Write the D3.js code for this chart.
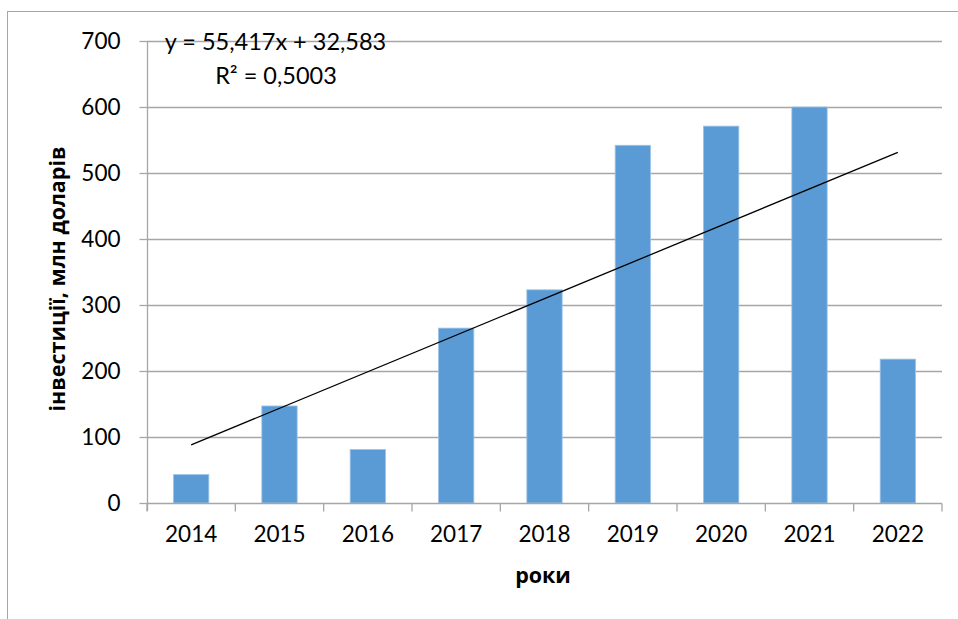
<!DOCTYPE html>
<html>
<head>
<meta charset="utf-8">
<script src="https://cdn.jsdelivr.net/npm/d3@7"></script>
<style>
  html, body { margin: 0; padding: 0; background: #fff; }
  svg { display: block; }
</style>
</head>
<body>
<svg id="chart" width="958" height="619"></svg>
<script>
const years = ["2014","2015","2016","2017","2018","2019","2020","2021","2022"];
const values = [43, 147, 81, 265, 323, 542, 571, 600, 218];
const yTicks = [0, 100, 200, 300, 400, 500, 600, 700];
const trendSlope = 55.417;
const trendIntercept = 32.583;
const equationText = "y = 55,417x + 32,583";
const r2Text = "R² = 0,5003";
const yTitle = "інвестиції, млн доларів";
const xTitle = "роки";

const svg = d3.select("#chart");
const W = 958, H = 619;
const m = { left: 147, right: 942, top: 41, bottom: 503 };
const gray = "#a6a6a6";
const numFont = "Lato, 'Open Sans', sans-serif";
const titleFont = "'Open Sans', 'Noto Sans', sans-serif";

// outer border (top and left visible)
svg.append("line").attr("x1", 7).attr("x2", W).attr("y1", 11.5).attr("y2", 11.5)
  .attr("stroke", gray).attr("stroke-width", 1);
svg.append("line").attr("x1", 7.5).attr("x2", 7.5).attr("y1", 11).attr("y2", H)
  .attr("stroke", gray).attr("stroke-width", 1);

const x = d3.scaleBand().domain(years).range([m.left, m.right])
  .paddingInner(0.6).paddingOuter(0.3);
const y = d3.scaleLinear().domain([0, 700]).range([m.bottom, m.top]);

// gridlines
svg.append("g").selectAll("line").data(yTicks.filter(d => d > 0)).join("line")
  .attr("x1", m.left).attr("x2", m.right)
  .attr("y1", d => Math.round(y(d)) + 0.5).attr("y2", d => Math.round(y(d)) + 0.5)
  .attr("stroke", gray).attr("stroke-width", 1.3);

// bars
svg.append("g").selectAll("rect").data(values).join("rect")
  .attr("x", (d, i) => x(years[i]))
  .attr("width", x.bandwidth())
  .attr("y", d => y(d))
  .attr("height", d => y(0) - y(d))
  .attr("fill", "#5B9BD5")
  .attr("stroke", "#9DC3E6").attr("stroke-width", 0.8);

// y axis
const yAxis = d3.axisLeft(y).tickValues(yTicks).tickSize(8).tickPadding(19);
const gy = svg.append("g").attr("transform", `translate(${m.left + 0.5},0)`).call(yAxis);
gy.select(".domain").attr("stroke", gray).attr("stroke-width", 1.3)
  .attr("d", `M0,${m.top}V${m.bottom + 8}`);
gy.selectAll(".tick line").attr("stroke", gray).attr("stroke-width", 1.3);
gy.selectAll(".tick text").attr("font-family", numFont).attr("font-size", 22.5).attr("fill", "#000");

// x axis
const xAxis = d3.axisBottom(x).tickSize(0).tickPadding(23);
const gx = svg.append("g").attr("transform", `translate(0,${Math.round(m.bottom) + 0.5})`).call(xAxis);
gx.select(".domain").attr("stroke", gray).attr("stroke-width", 1.3)
  .attr("d", `M${m.left},0H${m.right}`);
gx.selectAll(".tick text").attr("font-family", numFont).attr("font-size", 22.5).attr("fill", "#000");
// category boundary ticks
const bounds = d3.range(years.length + 1).map(i => m.left + i * (m.right - m.left) / years.length);
gx.append("g").selectAll("line").data(bounds).join("line")
  .attr("x1", d => d).attr("x2", d => d).attr("y1", 0).attr("y2", 8)
  .attr("stroke", gray).attr("stroke-width", 1.3);

// trend line
const trendPts = years.map((yr, i) => [x(yr) + x.bandwidth() / 2, y(trendSlope * (i + 1) + trendIntercept)]);
svg.append("line")
  .attr("x1", trendPts[0][0]).attr("y1", trendPts[0][1])
  .attr("x2", trendPts[trendPts.length - 1][0]).attr("y2", trendPts[trendPts.length - 1][1])
  .attr("stroke", "#000").attr("stroke-width", 1.3);

// equation labels
svg.append("text").attr("x", 275.5).attr("y", 50).attr("text-anchor", "middle")
  .attr("font-family", numFont).attr("font-size", 23.5).text(equationText);
svg.append("text").attr("x", 276).attr("y", 84).attr("text-anchor", "middle")
  .attr("font-family", numFont).attr("font-size", 23.5).text(r2Text);

// axis titles
svg.append("text").attr("transform", `translate(65,279) rotate(-90)`)
  .attr("text-anchor", "middle").attr("font-family", titleFont)
  .attr("font-weight", "bold").attr("font-size", 21.5).text(yTitle);
svg.append("text").attr("x", 543).attr("y", 583).attr("text-anchor", "middle")
  .attr("font-family", titleFont).attr("font-weight", "bold").attr("font-size", 21.5).text(xTitle);
</script>
</body>
</html>
